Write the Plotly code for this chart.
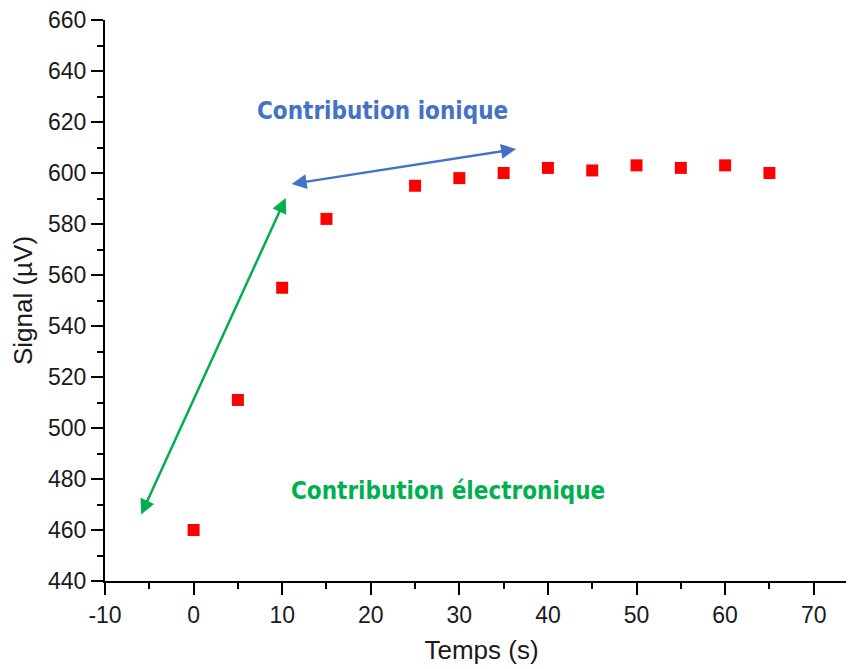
import plotly.graph_objects as go

# Data
temps = [0, 5, 10, 15, 25, 30, 35, 40, 45, 50, 55, 60, 65]
signal = [460, 511, 555, 582, 595, 598, 600, 602, 601, 603, 602, 603, 600]

x_range = [-10, 75]
y_range = [440, 660]
x_tickvals = [-10, 0, 10, 20, 30, 40, 50, 60, 70]
x_ticktext = ["-10", "0", "10", "20", "30", "40", "50", "60", "70"]

# Annotation arrows (data coordinates): start -> end
green_arrow = [(-6.0, 465.5), (10.4, 590.2)]
blue_arrow = [(10.9, 595.6), (36.4, 609.4)]
label_ionique = ("Contribution ionique", 21.3, 624.4)
label_electro = ("Contribution électronique", 28.7, 475.1)

GREEN = "#00B050"
BLUE = "#4472C4"
tick_font = dict(family="Liberation Sans, Arial, sans-serif", size=23, color="#1a1a1a")
title_font = dict(family="Liberation Sans, Arial, sans-serif", size=26, color="#1a1a1a")
narrow = "Liberation Sans Narrow, Arial Narrow, DejaVu Sans Condensed, sans-serif"

fig = go.Figure()
fig.add_trace(go.Scatter(
    x=temps, y=signal, mode="markers",
    marker=dict(symbol="square", size=12, color="#FF0000", line=dict(width=0)),
    showlegend=False, hoverinfo="x+y",
))

axis_common = dict(showgrid=False, zeroline=False, linecolor="black", linewidth=2,
                   tickcolor="black", tickwidth=2, automargin=False)

# page body has an 8px margin, so the figure is offset by (8, 8)
fig.update_layout(
    width=854, height=669,
    margin=dict(l=97, r=4, t=12, b=96),
    paper_bgcolor="white", plot_bgcolor="white",
    xaxis=dict(range=x_range, tickmode="array", tickvals=x_tickvals, ticktext=x_ticktext,
               ticks="outside", ticklen=12, showline=True, tickfont=tick_font,
               minor=dict(dtick=5, tick0=0, ticks="outside", ticklen=6, tickwidth=2, tickcolor="black"),
               title=dict(text="Temps (s)", font=title_font, standoff=14),
               **axis_common),
    xaxis2=dict(range=x_range, dtick=10, tick0=0, ticks="inside", ticklen=11,
                showline=True, showticklabels=False, overlaying="x", side="top", anchor="y",
                minor=dict(dtick=5, tick0=0, ticks="inside", ticklen=6, tickwidth=2, tickcolor="black"),
                **axis_common),
    yaxis=dict(range=y_range, tickmode="linear", dtick=20, tick0=440,
               ticks="outside", ticklen=12, showline=True, tickfont=tick_font,
               ticklabeloverflow="allow",
               minor=dict(dtick=10, tick0=440, ticks="outside", ticklen=6, tickwidth=2, tickcolor="black"),
               title=dict(text="Signal (µV)", font=title_font, standoff=8),
               **axis_common),
    yaxis2=dict(range=y_range, dtick=20, tick0=440, ticks="inside", ticklen=11,
                showline=True, showticklabels=False, overlaying="y", side="right", anchor="x",
                minor=dict(dtick=10, tick0=440, ticks="inside", ticklen=6, tickwidth=2, tickcolor="black"),
                **axis_common),
)

for (x0, y0), (x1, y1), col in [(green_arrow[0], green_arrow[1], GREEN), (blue_arrow[0], blue_arrow[1], BLUE)]:
    fig.add_annotation(x=x1, y=y1, ax=x0, ay=y0, xref="x", yref="y", axref="x", ayref="y",
                       text="", showarrow=True, arrowhead=2, arrowside="end+start",
                       arrowsize=1.2, arrowwidth=2.5, arrowcolor=col)

for (txt, x, y), col in [(label_ionique, BLUE), (label_electro, GREEN)]:
    fig.add_annotation(x=x, y=y, xref="x", yref="y", text="<b>%s</b>" % txt, showarrow=False,
                       font=dict(family=narrow, size=24, color=col))

fig.write_html("out.html")
